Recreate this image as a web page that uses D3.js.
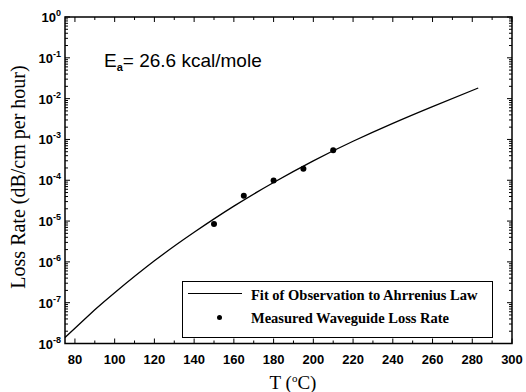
<!DOCTYPE html>
<html><head><meta charset="utf-8">
<script src="https://cdn.jsdelivr.net/npm/d3@7"></script>
<style>body{margin:0;background:#fff}</style></head><body>
<svg id="c" width="526" height="392"></svg>
<script>
// Fit curve (Arrhenius)
const fitT    = [75, 90, 100, 120, 140, 160, 180, 200, 220, 240, 260, 283];
const fitRate = [1.41e-8, 6.68e-8, 1.76e-7, 1.06e-6, 5.31e-6, 2.32e-5, 8.81e-5, 2.99e-4, 9.02e-4, 2.48e-3, 6.38e-3, 1.82e-2];
// Measured points
const measT    = [150, 165, 180, 195, 210];
const measRate = [8.5e-6, 4.2e-5, 9.8e-5, 1.9e-4, 5.4e-4];
// Tick labels
const xTicks = [80, 100, 120, 140, 160, 180, 200, 220, 240, 260, 280, 300];
const yExp = [0, -1, -2, -3, -4, -5, -6, -7, -8];

const svg = d3.select("#c");
const L = 65, R = 512, T = 17, B = 343.5;
const x = d3.scaleLinear().domain([75, 300]).range([L, R]);
const y = d3.scaleLog().domain([1e-8, 1]).range([B, T]);

// minor tick values
const xMinor = d3.range(90, 300, 20);
const yMinor = [];
for (let d = -8; d < 0; d++) for (let k = 2; k <= 9; k++) yMinor.push(k * Math.pow(10, d));

const g = svg.append("g").attr("stroke", "#000").attr("stroke-width", 1);
xTicks.forEach(v => {
  g.append("line").attr("x1", x(v)).attr("x2", x(v)).attr("y1", B).attr("y2", B - 5);
  g.append("line").attr("x1", x(v)).attr("x2", x(v)).attr("y1", T).attr("y2", T + 5);
});
xMinor.forEach(v => {
  g.append("line").attr("x1", x(v)).attr("x2", x(v)).attr("y1", B).attr("y2", B - 3);
  g.append("line").attr("x1", x(v)).attr("x2", x(v)).attr("y1", T).attr("y2", T + 3);
});
yExp.forEach(e => {
  const v = Math.pow(10, e);
  g.append("line").attr("x1", L).attr("x2", L + 5).attr("y1", y(v)).attr("y2", y(v));
  g.append("line").attr("x1", R).attr("x2", R - 5).attr("y1", y(v)).attr("y2", y(v));
});
yMinor.forEach(v => {
  g.append("line").attr("x1", L).attr("x2", L + 3).attr("y1", y(v)).attr("y2", y(v));
  g.append("line").attr("x1", R).attr("x2", R - 3).attr("y1", y(v)).attr("y2", y(v));
});

// frame
svg.append("rect").attr("x", L).attr("y", T).attr("width", R - L).attr("height", B - T)
  .attr("fill", "none").attr("stroke", "#000").attr("stroke-width", 1.5);

// x tick labels
svg.append("g").selectAll("text").data(xTicks).join("text")
  .attr("x", d => x(d)).attr("y", B + 20).attr("text-anchor", "middle")
  .attr("font-family", "Liberation Sans, Arial, sans-serif").attr("font-weight", "bold")
  .attr("font-size", 13).text(d => d);

// y tick labels
const yl = svg.append("g").attr("font-family", "Liberation Sans, Arial, sans-serif").attr("font-weight", "bold");
yExp.forEach(e => {
  const t = yl.append("text").attr("x", 61).attr("y", y(Math.pow(10, e)) + 5).attr("text-anchor", "end").attr("font-size", 13);
  t.append("tspan").text("10");
  t.append("tspan").attr("dy", -6).attr("font-size", 9).text(e === 0 ? "0" : "-" + (-e));
});

// fit curve
const line = d3.line().x((d, i) => x(fitT[i])).y((d, i) => y(fitRate[i])).curve(d3.curveNatural);
svg.append("path").attr("d", line(fitT)).attr("fill", "none").attr("stroke", "#000").attr("stroke-width", 1.3);

// points
svg.append("g").selectAll("circle").data(measT).join("circle")
  .attr("cx", (d) => x(d)).attr("cy", (d, i) => y(measRate[i])).attr("r", 3).attr("fill", "#000");

// annotation
const ann = svg.append("text").attr("x", 104).attr("y", 67).attr("font-family", "Liberation Sans, Arial, sans-serif").attr("font-size", 19);
ann.append("tspan").text("E");
ann.append("tspan").attr("dy", 4).attr("font-size", 11).attr("font-weight", "bold").text("a");
ann.append("tspan").attr("dy", -4).text("= 26.6 kcal/mole");

// legend
const lg = svg.append("g");
lg.append("rect").attr("x", 182.5).attr("y", 281.5).attr("width", 310).attr("height", 56)
  .attr("fill", "#fff").attr("stroke", "#000").attr("stroke-width", 1);
lg.append("line").attr("x1", 188).attr("x2", 242).attr("y1", 293.5).attr("y2", 293.5).attr("stroke", "#000").attr("stroke-width", 1);
lg.append("circle").attr("cx", 219.5).attr("cy", 317.5).attr("r", 2.5).attr("fill", "#000");
const lt = lg.append("g").attr("font-family", "Liberation Serif, Times New Roman, serif").attr("font-size", 14.5).attr("font-weight", "bold");
lt.append("text").attr("x", 251).attr("y", 300).text("Fit of Observation to Ahrrenius Law");
lt.append("text").attr("x", 251).attr("y", 323).text("Measured Waveguide Loss Rate");

// axis titles
const xt = svg.append("text").attr("x", 293).attr("y", 389).attr("text-anchor", "middle")
  .attr("font-family", "Liberation Serif, Times New Roman, serif").attr("font-size", 19);
xt.append("tspan").text("T (");
xt.append("tspan").attr("dy", -7).attr("font-size", 11).text("o");
xt.append("tspan").attr("dy", 7).text("C)");

svg.append("text").attr("transform", "translate(25,177) rotate(-90)").attr("text-anchor", "middle")
  .attr("font-family", "Liberation Serif, Times New Roman, serif").attr("font-size", 20)
  .text("Loss Rate (dB/cm per hour)");
</script>
</body></html>
